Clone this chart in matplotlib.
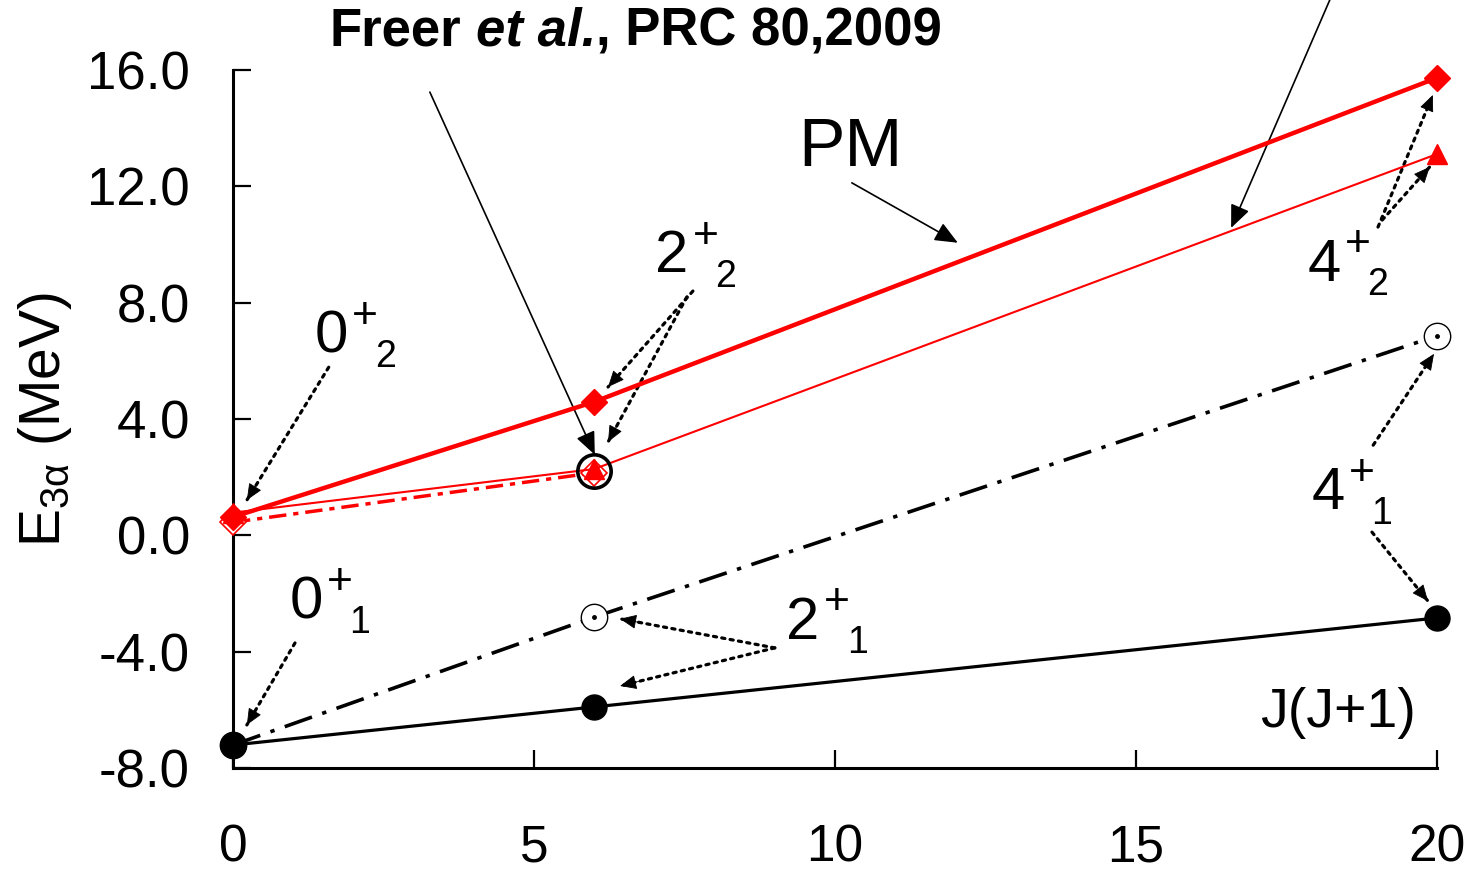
import matplotlib
matplotlib.use("Agg")
import matplotlib.pyplot as plt

plt.rcParams['font.family'] = ['Liberation Sans', 'DejaVu Sans']
plt.rcParams['mathtext.fontset'] = 'custom'
plt.rcParams['mathtext.rm'] = 'Liberation Sans'
plt.rcParams['mathtext.it'] = 'Liberation Sans:italic'
plt.rcParams['mathtext.bf'] = 'Liberation Sans:bold'
plt.rcParams['axes.unicode_minus'] = False

# J(J+1) for J = 0, 2, 4
jj = [0, 6, 20]

# ground band
e_gs_pm = [-7.21, -5.90, -2.84]      # filled circles, solid
e_gs_2 = [-7.21, -2.81, 6.86]        # open circles, dash-dot
# Hoyle band
e_hoyle_pm = [0.63, 4.59, 15.73]     # filled diamonds, thick
e_hoyle_2 = [0.78, 2.28, 13.11]      # triangles, thin
jj_hoyle_3 = [0, 6]
e_hoyle_3 = [0.45, 2.15]             # open diamonds, dash-dot
# experiment (Freer et al.)
jj_exp = [6]
e_exp = [2.21]

fig = plt.figure(figsize=(14.72, 8.72), dpi=100)
ax = fig.add_axes([233/1472, 1-768/872, (1437-233)/1472, (768-70)/872])

ax.plot(jj, e_gs_pm, '-', color='black', lw=2.3, marker='o', ms=18,
        mfc='black', mec='black', clip_on=False, zorder=3)
ax.plot(jj, e_gs_2, color='black', lw=2.6, dashes=(8, 3, 1.2, 3),
        marker='o', ms=19, mfc='white', mec='black', mew=1.0, clip_on=False, zorder=2)
ax.plot(jj, e_gs_2, ls='none', marker='o', ms=2.5, color='black', clip_on=False, zorder=2)

ax.plot(jj_hoyle_3, e_hoyle_3, color='red', lw=2.5, dashes=(5, 2, 1.5, 2),
        marker='D', ms=13, mfc='white', mec='red', mew=1.2, clip_on=False, zorder=4)
ax.plot(jj, e_hoyle_2, '-', color='red', lw=1.5, marker='^', ms=15,
        mfc='red', mec='red', clip_on=False, zorder=4)
ax.plot(jj, e_hoyle_pm, '-', color='red', lw=3.2, marker='D', ms=13,
        mfc='red', mec='red', clip_on=False, zorder=5)

ax.plot(jj_exp, e_exp, ls='none', marker='o', ms=24, mfc='none', mec='black',
        mew=2.6, clip_on=False, zorder=6)

ax.set_xlim(0, 20)
ax.set_ylim(-8, 16)
ax.set_xticks([0, 5, 10, 15, 20])
ax.set_yticks([-8, -4, 0, 4, 8, 12, 16])
ax.set_yticklabels(['%.1f' % v for v in ax.get_yticks()])
ax.spines['top'].set_visible(False)
ax.spines['right'].set_visible(False)
for s in ('left', 'bottom'):
    ax.spines[s].set_linewidth(2.2)
ax.tick_params(direction='in', length=13, width=1.6, labelsize=38)
ax.tick_params(axis='x', pad=40, labelsize=37)
ax.tick_params(axis='y', pad=31)

fig.text(45/1472, 1-420/872, r'E$_{\mathrm{3\alpha}}$ (MeV)', rotation=90,
         ha='center', va='center', fontsize=41)

ax.text(18.36, -6.11, 'J(J+1)', ha='center', va='center', fontsize=40)
ax.text(10.25, 13.32, 'PM', ha='center', va='center', fontsize=50)

# reference label
t1 = ax.text(1.61, 17.34, 'Freer', fontsize=38, fontweight='bold', va='center',
             ha='left', clip_on=False)
t2 = ax.annotate('et al.', xy=(1, 0), xycoords=t1, xytext=(10.5, 0),
                 textcoords='offset points', va='bottom', fontsize=38,
                 fontweight='bold', style='italic')
ax.annotate(', PRC 80,2009', xy=(1, 0), xycoords=t2, va='bottom',
            fontsize=38, fontweight='bold')

solid = dict(arrowstyle='-|>,head_length=0.7,head_width=0.3', color='black',
             lw=1.2, shrinkA=0, shrinkB=0, mutation_scale=20)
ax.annotate('', xy=(6.01, 2.77), xytext=(3.27, 15.24), arrowprops=solid,
            annotation_clip=False)
ax.annotate('', xy=(12.04, 10.06), xytext=(10.28, 12.12), arrowprops=solid,
            annotation_clip=False)
ax.annotate('', xy=(16.58, 10.57), xytext=(18.28, 18.7), arrowprops=solid,
            annotation_clip=False)

# dotted shaft and a solid little head drawn separately
dotted = dict(arrowstyle='-', color='black', lw=2.3, ls=':',
              shrinkA=0, shrinkB=0)
head = dict(arrowstyle='-|>,head_length=0.8,head_width=0.35', color='black',
            lw=0.6, shrinkA=0, shrinkB=0, mutation_scale=13)


def state(x, y, n, k):
    ax.annotate(n, (x, y), ha='center', va='center_baseline', fontsize=43)
    ax.annotate('+', (x, y), xytext=(34, 19), textcoords='offset pixels',
                ha='center', va='center_baseline', fontsize=32)
    ax.annotate(k, (x, y), xytext=(54, -22), textcoords='offset pixels',
                ha='center', va='center_baseline', fontsize=27)


def pointer(x0, y0, x1, y1):
    ax.annotate('', xy=(x1, y1), xytext=(x0, y0), arrowprops=dotted,
                annotation_clip=False)
    xb = x1 - 0.12 * (x1 - x0)
    yb = y1 - 0.12 * (y1 - y0)
    ax.annotate('', xy=(x1, y1), xytext=(xb, yb), arrowprops=head,
                annotation_clip=False)


state(1.63, 7.01, '0', '2')
pointer(1.59, 5.78, 0.23, 1.21)

state(1.21, -2.12, '0', '1')
pointer(1.03, -3.70, 0.23, -6.52)

state(7.29, 9.78, '2', '2')
pointer(7.64, 8.40, 6.23, 5.10)
pointer(7.54, 8.20, 6.23, 3.21)

state(9.47, -2.81, '2', '1')
pointer(9.0, -3.87, 6.43, -2.87)
pointer(9.0, -3.87, 6.43, -5.18)

state(18.12, 9.50, '4', '2')
pointer(19.02, 10.60, 19.93, 15.14)
pointer(19.09, 10.84, 19.88, 12.67)

state(18.19, 1.63, '4', '1')
pointer(18.94, 3.10, 19.95, 6.24)
pointer(18.92, 0.11, 19.85, -2.26)

fig.savefig('out.png', dpi=100)
